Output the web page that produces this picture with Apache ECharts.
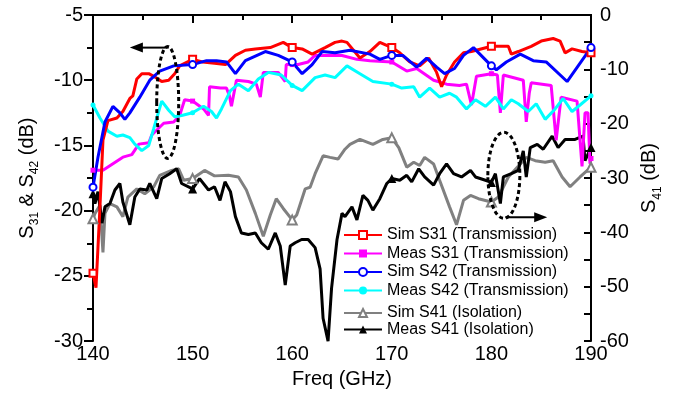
<!DOCTYPE html>
<html>
<head>
<meta charset="utf-8">
<script src="https://cdn.jsdelivr.net/npm/echarts@6/dist/echarts.min.js"></script>
<style>
  html, body { margin: 0; padding: 0; background: #fff; }
  #chart { width: 677px; height: 394px; }
</style>
</head>
<body>
<div id="chart"></div>
<script>
// frequency (GHz) / dB pairs
const simS31 = [[140,-24.8],[140.3,-25.9],[140.7,-19.7],[141.0,-14.6],[141.5,-13.1],[142.4,-12.9],[143.0,-12.4],[143.7,-11.4],[144.0,-11.2],[144.4,-9.9],[144.9,-9.5],[145.6,-9.5],[146.1,-9.7],[146.9,-10.1],[147.6,-10.0],[148.2,-9.5],[148.7,-8.9],[150,-8.4],[151.0,-8.6],[152.2,-8.7],[153.3,-8.8],[154.3,-8.1],[155.3,-7.7],[156.3,-7.6],[157.8,-7.5],[159.1,-7.1],[160,-7.5],[161.0,-7.6],[162.0,-8.0],[163.3,-7.5],[164.3,-7.1],[165.0,-7.0],[165.5,-7.1],[166.8,-8.3],[167.8,-7.8],[168.8,-7.1],[170,-7.5],[170.8,-7.9],[171.8,-8.6],[172.8,-8.9],[173.7,-8.3],[174.5,-9.4],[175.0,-10.5],[175.5,-9.6],[176.3,-8.6],[177.2,-7.9],[178.0,-7.8],[180,-7.4],[181.7,-7.4],[182.0,-8.0],[182.7,-7.8],[184.0,-7.4],[185.0,-7.0],[186.2,-6.8],[186.9,-7.0],[187.4,-7.9],[188.1,-7.6],[189.1,-7.8],[190,-7.9]];
const measS31 = [[140,-16.9],[141.0,-16.9],[142.0,-16.4],[143.0,-15.9],[143.9,-15.7],[144.6,-14.9],[145.6,-14.8],[145.9,-14.2],[147.1,-13.3],[148.1,-13.2],[148.7,-12.7],[149.2,-11.5],[150,-11.6],[151.1,-12.2],[151.6,-12.7],[151.7,-10.5],[152.8,-10.6],[153.4,-10.6],[153.7,-11.2],[153.9,-12.0],[154.4,-10.0],[155.6,-10.1],[156.4,-10.3],[156.8,-11.3],[157.1,-9.4],[158.6,-9.4],[159.3,-10.1],[159.4,-8.8],[160,-8.8],[160.6,-8.8],[161.6,-8.6],[162.3,-8.1],[164.3,-8.1],[165,-8.1],[166.5,-8.4],[167.8,-8.5],[170,-8.6],[171.5,-9.3],[172.5,-9.1],[174.2,-10.0],[175.5,-10.3],[176.8,-10.4],[177.5,-10.3],[178.0,-11.9],[178.1,-12.0],[178.5,-9.7],[180,-9.5],[180.6,-9.6],[180.9,-12.5],[181.2,-9.6],[183.2,-10.0],[183.5,-13.2],[183.8,-11.0],[184.0,-10.2],[186.0,-10.4],[186.5,-14.6],[187.0,-11.3],[188.6,-11.6],[189.1,-16.6],[189.4,-12.5],[189.7,-12.5],[189.9,-16.4],[190,-16.0]];
const simS42 = [[140,-18.2],[140.5,-15.9],[141.2,-13.2],[142.0,-12.0],[142.7,-12.5],[143.2,-13.0],[143.7,-12.5],[144.7,-11.3],[145.7,-10.0],[146.7,-9.3],[148.1,-8.9],[150,-8.8],[151.4,-8.5],[152.4,-8.5],[153.4,-8.6],[154.3,-9.5],[155.3,-8.5],[157.3,-7.8],[158.6,-8.1],[160,-8.6],[161.0,-9.5],[162.0,-8.8],[163.0,-7.8],[164.3,-7.9],[165.8,-7.7],[167.8,-8.0],[168.8,-8.4],[170,-8.1],[171.1,-8.1],[172.5,-9.0],[173.5,-8.3],[174.5,-9.0],[175.3,-9.5],[176.3,-9.1],[177.2,-8.1],[178.2,-7.5],[180,-8.9],[180.5,-9.2],[181.5,-8.6],[182.9,-8.0],[184.2,-8.5],[185.5,-8.6],[187.6,-10.1],[190,-7.5]];
const measS42 = [[140,-11.9],[140.7,-12.9],[141.5,-13.9],[142.4,-14.3],[143.0,-14.2],[143.7,-14.4],[144.2,-14.9],[144.9,-15.4],[145.6,-15.0],[146.1,-13.7],[146.9,-11.6],[147.6,-12.3],[148.2,-12.8],[148.9,-12.7],[150,-12.5],[151.1,-12.0],[151.9,-12.4],[152.4,-12.9],[152.9,-12.2],[153.8,-10.8],[154.6,-10.3],[155.6,-10.8],[156.6,-9.9],[157.6,-9.4],[158.9,-9.6],[160,-10.4],[161.0,-10.8],[162.3,-9.8],[163.3,-9.6],[164.3,-9.8],[165.5,-8.9],[166.8,-9.5],[168.1,-10.1],[170,-10.3],[171.0,-10.6],[172.2,-10.5],[172.8,-11.3],[173.8,-10.6],[174.8,-11.3],[175.8,-11.0],[176.5,-11.3],[177.5,-12.2],[178.4,-11.5],[179.4,-12.0],[180.4,-11.3],[181.2,-12.2],[182.0,-11.5],[182.7,-11.8],[183.7,-12.4],[184.5,-11.8],[185.4,-13.0],[186.4,-12.2],[187.2,-11.4],[188.1,-12.4],[188.9,-11.9],[190,-11.2]];
// isolation, right axis
const simS41 = [[140,-37.5],[140.2,-36.5],[140.7,-35.0],[141.0,-43.7],[141.2,-36.5],[141.7,-34.7],[142.4,-35.3],[143.0,-37.1],[143.5,-33.5],[144.4,-32.0],[145.2,-32.9],[146.1,-31.6],[146.7,-29.5],[147.9,-28.6],[148.6,-28.3],[149.1,-30.4],[150,-30.1],[151.2,-28.6],[152.2,-29.6],[153.6,-29.5],[154.6,-29.8],[155.4,-32.2],[156.3,-36.5],[157.1,-40.7],[157.8,-36.8],[158.4,-33.8],[159.1,-35.6],[160,-37.7],[160.45,-36.8],[161.3,-32.0],[161.8,-31.7],[162.3,-29.2],[163.1,-25.9],[163.8,-26.2],[164.6,-26.5],[165.3,-24.7],[165.8,-23.8],[166.8,-22.9],[168.1,-23.8],[169.1,-22.9],[170,-22.6],[170.7,-24.4],[171.5,-28.0],[172.2,-27.1],[172.8,-27.7],[173.3,-26.2],[174.2,-27.4],[174.8,-30.4],[175.8,-35.3],[176.5,-38.6],[177.2,-34.1],[177.9,-33.2],[178.7,-33.8],[180,-34.4],[180.7,-33.5],[181.7,-29.8],[182.9,-27.4],[183.5,-26.2],[184.4,-26.8],[185.4,-27.1],[186.2,-26.8],[187.1,-29.8],[187.9,-31.6],[188.9,-29.8],[190,-28.0]];
const measS41 = [[140,-32.9],[140.2,-34.7],[140.5,-32.5],[140.9,-38.3],[141.2,-35.3],[141.7,-34.7],[142.2,-32.2],[142.7,-31.0],[143.0,-34.4],[143.7,-38.6],[144.2,-33.5],[144.7,-32.0],[145.4,-32.2],[145.7,-31.0],[146.4,-33.8],[146.9,-30.1],[147.7,-29.2],[148.4,-28.3],[148.9,-31.0],[150,-32.0],[150.7,-30.1],[151.6,-32.2],[152.2,-31.6],[152.75,-34.1],[153.25,-30.7],[153.8,-32.5],[154.3,-37.1],[154.9,-40.1],[155.6,-40.4],[156.3,-40.1],[156.9,-41.9],[157.6,-43.1],[158.3,-40.1],[158.8,-42.5],[159.3,-49.7],[159.8,-42.5],[160.3,-41.9],[160.95,-41.3],[161.6,-41.3],[162.3,-42.8],[162.8,-46.7],[163.1,-55.8],[163.6,-60],[163.95,-50.3],[164.5,-41.3],[165.0,-36.5],[165.3,-37.1],[166.0,-35.3],[166.5,-37.7],[167.1,-33.2],[167.6,-34.1],[168.1,-35.9],[168.8,-33.8],[169.5,-31.0],[170,-30.1],[170.8,-30.4],[171.5,-29.5],[172.0,-30.7],[172.7,-28.3],[173.3,-29.8],[174.2,-31.3],[174.8,-29.2],[175.5,-27.4],[176.2,-29.2],[177.0,-29.8],[177.9,-28.6],[178.4,-29.8],[179.4,-30.4],[180,-30.8],[180.4,-29.2],[180.9,-34.7],[181.2,-29.8],[182.0,-29.2],[182.7,-28.6],[183.2,-25.0],[183.5,-29.8],[183.9,-24.4],[184.6,-23.8],[185.2,-24.7],[186.1,-22.3],[186.7,-24.4],[187.4,-22.9],[188.4,-22.9],[189.2,-22.3],[189.4,-26.8],[190,-24.4]];

const transNames = ['Sim S31 (Transmission)', 'Meas S31 (Transmission)', 'Sim S42 (Transmission)', 'Meas S42 (Transmission)'];
const isoNames = ['Sim S41 (Isolation)', 'Meas S41 (Isolation)'];

const font = 'Liberation Sans, Arial, sans-serif';
// markers only every 10 GHz
const markAt10 = size => v => (v[0] % 10 === 0 ? size : 0);

function line(name, data, color, symbol, yAxisIndex, size) {
  return {
    name, type: 'line', data, yAxisIndex,
    symbol, symbolSize: markAt10(size),
    lineStyle: { color, width: 3 },
    itemStyle: { color, borderWidth: 1.2 },
    z: 2
  };
}

const chart = echarts.init(document.getElementById('chart'));

chart.setOption({
  animation: false,
  textStyle: { fontFamily: font, color: '#000' },
  grid: { left: 93, right: 86, top: 15, bottom: 47 },
  legend: [
    { data: transNames, orient: 'vertical', left: 343, top: 227, padding: 0,
      itemWidth: 38, itemHeight: 10, itemGap: 2.5,
      textStyle: { fontSize: 16, color: '#000', fontFamily: font } },
    { data: isoNames, orient: 'vertical', left: 343, top: 305, padding: 0,
      itemWidth: 38, itemHeight: 10, itemGap: 0.5,
      textStyle: { fontSize: 16, color: '#000', fontFamily: font } }
  ],
  xAxis: [
    {
      type: 'value', min: 140, max: 190, interval: 10, position: 'bottom',
      name: 'Freq (GHz)', nameLocation: 'middle', nameGap: 23,
      nameTextStyle: { fontSize: 20, color: '#000' },
      axisLine: { lineStyle: { color: '#000', width: 2 } },
      axisTick: { length: 8, lineStyle: { color: '#000', width: 2 } },
      minorTick: { show: true, splitNumber: 2, length: 5, lineStyle: { color: '#000', width: 2 } },
      axisLabel: { fontSize: 20, color: '#000', margin: 3 },
      splitLine: { show: false }
    },
    {
      type: 'value', min: 140, max: 190, interval: 10, position: 'top',
      axisLine: { lineStyle: { color: '#000', width: 2 } },
      axisTick: { inside: true, length: 8, lineStyle: { color: '#000', width: 2 } },
      minorTick: { show: true, splitNumber: 2, length: 5, lineStyle: { color: '#000', width: 2 } },
      axisLabel: { show: false },
      splitLine: { show: false }
    }
  ],
  yAxis: [
    {
      type: 'value', min: -30, max: -5, interval: 5, position: 'left',
      name: '{t|S}{s|31}{t| & S}{s|42}{t| (dB)}',
      nameLocation: 'middle', nameRotate: 90, nameGap: 52,
      nameTextStyle: {
        rich: {
          t: { fontSize: 20, lineHeight: 28, color: '#000', fontFamily: font },
          s: { fontSize: 12, lineHeight: 14, verticalAlign: 'bottom', color: '#000', fontFamily: font }
        }
      },
      axisLine: { lineStyle: { color: '#000', width: 2 } },
      axisTick: { length: 9, lineStyle: { color: '#000', width: 2 } },
      minorTick: { show: true, splitNumber: 2, length: 6, lineStyle: { color: '#000', width: 2 } },
      axisLabel: { fontSize: 20, color: '#000', margin: 10 },
      splitLine: { show: false }
    },
    {
      type: 'value', min: -60, max: 0, interval: 10, position: 'right',
      name: '{t|S}{s|41}{t| (dB)}',
      nameLocation: 'middle', nameRotate: 90, nameGap: 35,
      nameTextStyle: {
        rich: {
          t: { fontSize: 20, lineHeight: 28, color: '#000', fontFamily: font },
          s: { fontSize: 12, lineHeight: 14, verticalAlign: 'bottom', color: '#000', fontFamily: font }
        }
      },
      axisLine: { lineStyle: { color: '#000', width: 2 } },
      axisTick: { inside: true, length: 7, lineStyle: { color: '#000', width: 2 } },
      minorTick: { show: true, splitNumber: 2, length: 7, lineStyle: { color: '#000', width: 2 } },
      axisLabel: { fontSize: 20, color: '#000', margin: 9 },
      splitLine: { show: false }
    }
  ],
  series: [
    line(isoNames[0], simS41, '#808080', 'emptyTriangle', 1, 9),
    line(isoNames[1], measS41, '#000000', 'triangle', 1, 9),
    line(transNames[1], measS31, '#ff00ff', 'rect', 0, 5),
    line(transNames[3], measS42, '#00ffff', 'circle', 0, 5),
    line(transNames[0], simS31, '#ff0000', 'emptyRect', 0, 7),
    line(transNames[2], simS42, '#0000ff', 'emptyCircle', 0, 7)
  ]
});

// dashed ellipses + arrows telling which axis each group uses
const px = f => chart.convertToPixel({ xAxisIndex: 0 }, f);
const pyL = v => chart.convertToPixel({ yAxisIndex: 0 }, v);
const pyR = v => chart.convertToPixel({ yAxisIndex: 1 }, v);

const dash = { fill: 'none', stroke: '#000', lineWidth: 3, lineDash: [4, 3] };
const solid = { stroke: '#000', lineWidth: 2 };

const e1 = [px(147.5), pyL(-11.7)];
const a1 = [px(147.6), px(143.7), pyL(-7.5)];
const e2 = [px(181.25), pyR(-29.5)];
const a2 = [px(181.4), px(185.6), pyR(-37.2)];

chart.setOption({
  graphic: [
    { type: 'ellipse', shape: { cx: e1[0], cy: e1[1], rx: 11, ry: 56 }, style: dash, z: 10 },
    { type: 'line', shape: { x1: a1[0], y1: a1[2], x2: a1[1] + 10, y2: a1[2] }, style: solid, z: 10 },
    { type: 'polygon', shape: { points: [[a1[1], a1[2]], [a1[1] + 13, a1[2] - 5], [a1[1] + 13, a1[2] + 5]] }, style: { fill: '#000' }, z: 10 },
    { type: 'ellipse', shape: { cx: e2[0], cy: e2[1], rx: 16, ry: 43 }, style: dash, z: 10 },
    { type: 'line', shape: { x1: a2[0], y1: a2[2], x2: a2[1] - 10, y2: a2[2] }, style: solid, z: 10 },
    { type: 'polygon', shape: { points: [[a2[1], a2[2]], [a2[1] - 13, a2[2] - 5], [a2[1] - 13, a2[2] + 5]] }, style: { fill: '#000' }, z: 10 }
  ]
});
</script>
</body>
</html>
